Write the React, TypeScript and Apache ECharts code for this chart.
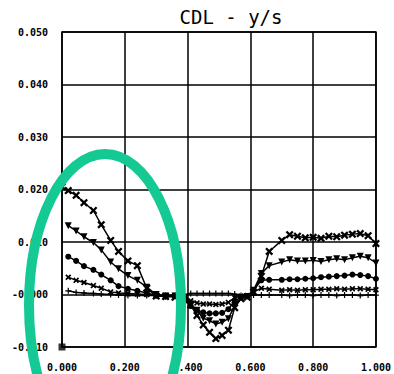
import React, { useEffect, useRef } from "react";
import * as echarts from "echarts";

const xs = [0, 0.02, 0.045, 0.07, 0.1, 0.125, 0.155, 0.18, 0.21, 0.24, 0.27, 0.3, 0.33, 0.36, 0.39, 0.41, 0.43, 0.45, 0.47, 0.49, 0.51, 0.53, 0.55, 0.57, 0.59, 0.61, 0.635, 0.66, 0.7, 0.725, 0.75, 0.775, 0.8, 0.825, 0.85, 0.875, 0.9, 0.925, 0.95, 0.975, 1.0];

const seriesX = [0.0205, 0.0198, 0.0189, 0.0175, 0.016, 0.0133, 0.0103, 0.0082, 0.0064, 0.0055, 0.0012, -0.0003, -0.0004, -0.0005, -0.001, -0.002, -0.004, -0.0058, -0.0072, -0.0084, -0.0078, -0.0068, -0.0025, -0.0008, -0.0005, 0.0005, 0.0035, 0.0082, 0.0103, 0.0114, 0.0111, 0.0108, 0.0109, 0.0107, 0.0111, 0.011, 0.0113, 0.0115, 0.0116, 0.0112, 0.0097];

const seriesTri = [null, 0.0131, 0.0121, 0.011, 0.0099, 0.0085, 0.0062, 0.0049, 0.0036, 0.0027, 0.0014, 0.0, -0.0003, -0.0003, -0.0008, -0.0018, -0.003, -0.0045, -0.005, -0.0056, -0.0053, -0.0046, -0.0021, -0.0006, -0.0004, 0.0008, 0.004, 0.0055, 0.0062, 0.0066, 0.0064, 0.0064, 0.0065, 0.0063, 0.0066, 0.0068, 0.0066, 0.007, 0.0073, 0.007, 0.006];

const seriesCirc = [null, 0.0072, 0.0064, 0.0054, 0.0047, 0.0038, 0.0027, 0.0016, 0.0011, 0.0007, 0.0003, -0.0002, -0.0004, -0.0003, -0.0008, -0.0022, -0.003, -0.0034, -0.0036, -0.0036, -0.0035, -0.0028, -0.0012, -0.0005, -0.0003, 0.0008, 0.0027, 0.0028, 0.0028, 0.0029, 0.0029, 0.003, 0.0031, 0.0033, 0.0034, 0.0035, 0.0036, 0.0038, 0.0037, 0.0035, 0.003];

const seriesSmallX = [null, 0.0033, 0.0027, 0.0023, 0.0017, 0.0012, 0.0005, 0.0003, 0.0002, 0.0001, 0.0, -0.0001, -0.0002, -0.0002, -0.0005, -0.0012, -0.0016, -0.0018, -0.0018, -0.0019, -0.0018, -0.0015, -0.0006, -0.0003, -0.0002, 0.0005, 0.0012, 0.001, 0.0008, 0.0009, 0.0008, 0.0009, 0.0009, 0.001, 0.001, 0.0011, 0.001, 0.0011, 0.0011, 0.001, 0.0009];

const seriesTick = [null, 0.0007, 0.0004, 0.0003, 0.0002, 0.0001, 0.0, -0.0001, -0.0002, -0.0002, -0.0002, -0.0002, -0.0002, -0.0002, 0.0, 0.0002, 0.0002, 0.0002, 0.0002, 0.0002, 0.0002, 0.0002, 0.0001, -0.0002, -0.0003, -0.0001, -0.0001, -0.0001, -0.0001, -0.0002, -0.0001, -0.0001, -0.0002, -0.0001, -0.0001, -0.0002, -0.0001, -0.0001, -0.0002, -0.0001, -0.0001];

const isolatedPoint = [[0, -0.01]];

const yTicks = { min: -0.01, max: 0.05, interval: 0.01 };
const xTicks = { min: 0, max: 1, interval: 0.2 };

const titleText = "CDL - y/s";

const X_PATH = "path://M0,2L2,0L5,3L8,0L10,2L7,5L10,8L8,10L5,7L2,10L0,8L3,5Z";
const TRI_PATH = "path://M0,0L10,0L5,9Z";
const PLUS_PATH = "path://M4,0L6,0L6,4L10,4L10,6L6,6L6,10L4,10L4,6L0,6L0,4L4,4Z";

const pair = (ys: (number | null)[]) => xs.map((x, i) => [x, ys[i]]);

export default function App() {
  const ref = useRef<HTMLDivElement>(null);
  useEffect(() => {
    if (!ref.current) return;
    const chart = echarts.init(ref.current, null, { renderer: "svg" });
    const labelFont = {
      color: "#000",
      fontFamily: "DejaVu Sans Mono",
      fontSize: 10,
      fontWeight: "bold" as const,
    };
    const lineSeries = (name: string, ys: (number | null)[], symbol: string, size: number) => ({
      name,
      type: "line",
      data: pair(ys),
      symbol,
      symbolSize: size,
      showSymbol: true,
      connectNulls: false,
      lineStyle: { color: "#000", width: 1.5 },
      itemStyle: { color: "#000" },
      z: 3,
    });
    chart.setOption({
      animation: false,
      backgroundColor: "#fff",
      grid: {
        left: 62,
        right: 12,
        top: 32,
        bottom: 27,
        show: true,
        borderColor: "#000",
        borderWidth: 1.5,
      },
      xAxis: {
        type: "value",
        min: xTicks.min,
        max: xTicks.max,
        interval: xTicks.interval,
        axisLine: { show: false },
        axisTick: { show: false },
        splitLine: { show: true, lineStyle: { color: "#000", width: 1.5 } },
        axisLabel: {
          ...labelFont,
          margin: 15,
          formatter: (v: number) => v.toFixed(3),
        },
      },
      yAxis: {
        type: "value",
        min: yTicks.min,
        max: yTicks.max,
        interval: yTicks.interval,
        axisLine: { show: false },
        axisTick: { show: false },
        splitLine: { show: true, lineStyle: { color: "#000", width: 1.5 } },
        axisLabel: {
          ...labelFont,
          margin: 14,
          padding: [0, 0, 6, 0],
          formatter: (v: number) => (Math.abs(v) < 1e-9 ? "-0.000" : v.toFixed(3)),
        },
      },
      series: [
        lineSeries("s1", seriesX, X_PATH, 8),
        lineSeries("s2", seriesTri, TRI_PATH, 7),
        lineSeries("s3", seriesCirc, "circle", 6),
        lineSeries("s4", seriesSmallX, X_PATH, 6),
        lineSeries("s5", seriesTick, PLUS_PATH, 6),
        {
          name: "pt",
          type: "scatter",
          data: isolatedPoint,
          symbol: "rect",
          symbolSize: 7,
          itemStyle: { color: "#000" },
          z: 4,
        },
      ],
      graphic: [
        {
          type: "text",
          x: 231,
          y: 17,
          z: 10,
          style: {
            text: titleText,
            fill: "#000",
            font: "19px 'DejaVu Sans Mono'",
            textAlign: "center",
            textVerticalAlign: "middle",
          },
        },
        {
          type: "ellipse",
          z: 100,
          shape: { cx: 105, cy: 305, rx: 76, ry: 151 },
          style: { fill: "none", stroke: "#14c994", lineWidth: 10 },
        },
      ],
    });
    return () => chart.dispose();
  }, []);
  return (
    <div
      ref={ref}
      style={{ position: "fixed", left: 0, top: 0, width: 394, height: 374, background: "#fff" }}
    />
  );
}
